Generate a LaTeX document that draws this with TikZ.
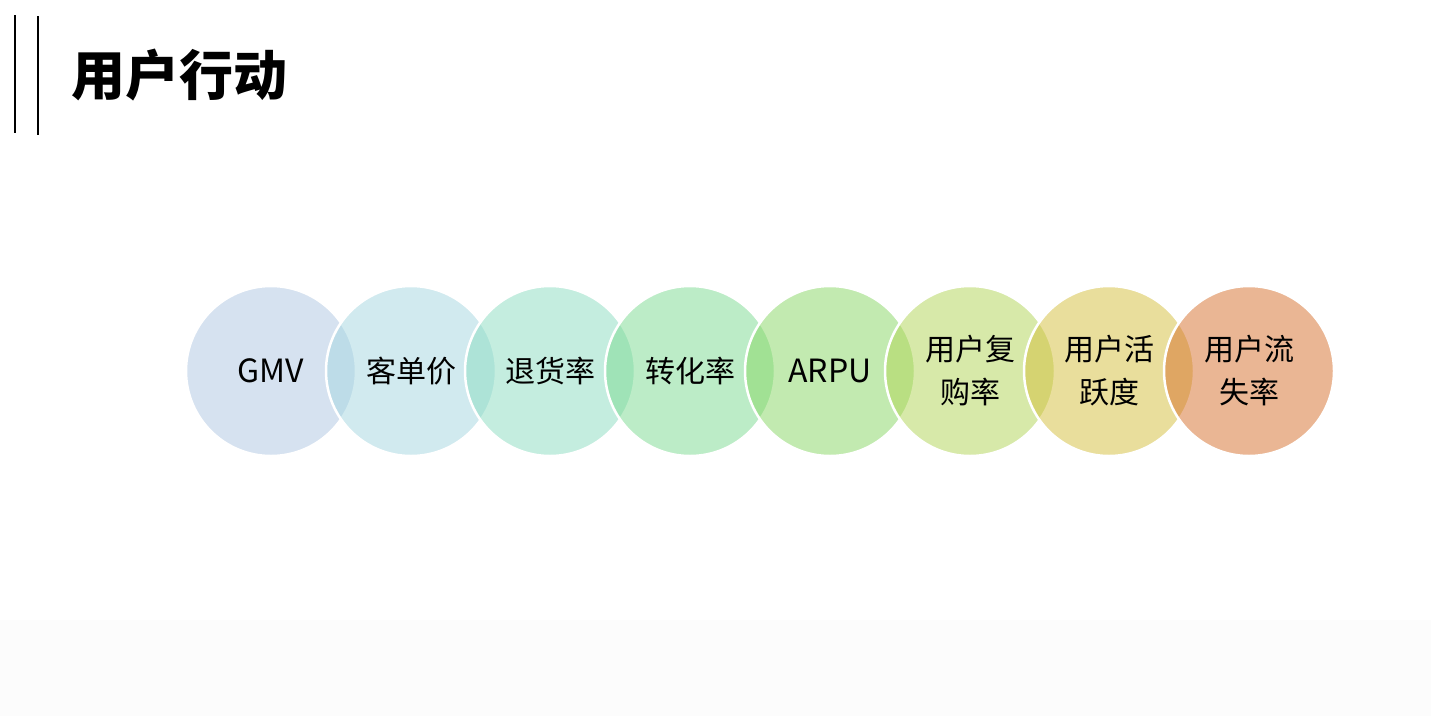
\documentclass[tikz,border=0pt]{standalone}
\usepackage{fontspec}
\newfontfamily\cjk{Noto Sans CJK SC}
\definecolor{b1}{RGB}{175,199,227}
\definecolor{b2}{RGB}{165,215,225}
\definecolor{b3}{RGB}{139,221,193}
\definecolor{b4}{RGB}{123,219,145}
\definecolor{b5}{RGB}{135,215,99}
\definecolor{b6}{RGB}{177,213,85}
\definecolor{b7}{RGB}{213,191,59}
\definecolor{b8}{RGB}{215,111,43}
\definecolor{bgbot}{RGB}{252,252,252}
\begin{document}
\begin{tikzpicture}[x=1pt,y=-1pt,
  bub/.style={circle, minimum size=170pt, inner sep=0pt, fill opacity=0.5, text opacity=1, draw=white, draw opacity=1, line width=2.5pt, font=\cjk\fontsize{30}{43}\selectfont, align=center},
  bar/.style={line width=2.5pt, black}]
\useasboundingbox (0,0) rectangle (1431,716);
\fill[white] (0,0) rectangle (1431,716);
\fill[bgbot] (0,620) rectangle (1431,716);
\coordinate (l1a) at (15,15); \coordinate (l1b) at (15,133);
\coordinate (l2a) at (38,16); \coordinate (l2b) at (38,135);
\draw[bar] (l1a) -- (l1b);
\draw[bar] (l2a) -- (l2b);
\node[anchor=west, font=\cjk\bfseries\fontsize{54}{60}\selectfont, inner sep=0pt] (title) at (71,75) {用户行动};
\node[bub, fill=b1] (c1) at (271,371) {\fontsize{32}{43}\selectfont GMV};
\node[bub, fill=b2] (c2) at (411,371) {客单价};
\node[bub, fill=b3] (c3) at (550,371) {退货率};
\node[bub, fill=b4] (c4) at (690,371) {转化率};
\node[bub, fill=b5] (c5) at (830,371) {\fontsize{32}{43}\selectfont ARPU};
\node[bub, fill=b6] (c6) at (970,371) {用户复\\购率};
\node[bub, fill=b7] (c7) at (1109,371) {用户活\\跃度};
\node[bub, fill=b8] (c8) at (1249,371) {用户流\\失率};
\end{tikzpicture}
\end{document}
